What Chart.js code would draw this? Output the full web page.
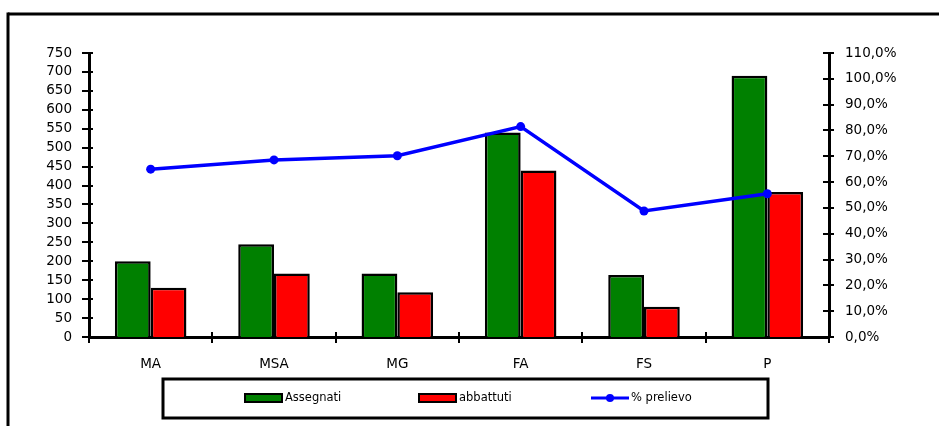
<!DOCTYPE html>
<html>
<head>
<meta charset="utf-8">
<script src="https://cdn.jsdelivr.net/npm/chart.js@4/dist/chart.umd.min.js"></script>
<style>
html,body{margin:0;padding:0;background:#fff}
#wrap{width:939px;height:426px;position:relative}
</style>
</head>
<body>
<div id="wrap"><canvas id="c" width="939" height="426"></canvas></div>
<script>
// data
const categories = ['MA', 'MSA', 'MG', 'FA', 'FS', 'P'];
const assegnati = [200, 245, 168, 540, 164, 690];
const abbattuti = [130, 168, 118, 440, 80, 383];
const prelievo = [65.0, 68.6, 70.2, 81.5, 48.8, 55.5];
const leftAxis = {min: 0, max: 750, step: 50};
const rightAxis = {min: 0, max: 110, step: 10};
const seriesNames = ['Assegnati', 'abbattuti', '% prelievo'];

const FONT = 'DejaVu Sans';

function seg(ctx, x1, y1, x2, y2){
    ctx.beginPath();
    ctx.moveTo(x1, y1);
    ctx.lineTo(x2, y2);
    ctx.stroke();
}

// excel style ticks that cross the axis line
const crossTicks = {
    id: 'crossTicks',
    afterDraw(chart){
        const ctx = chart.ctx, s = chart.scales;
        ctx.save();
        ctx.strokeStyle = '#000';
        ctx.lineWidth = 2;
        for(let v = leftAxis.min; v <= leftAxis.max; v += leftAxis.step){
            let py = Math.round(s.y.getPixelForValue(v));
            seg(ctx, s.y.right - 7, py, s.y.right + 4, py);
        }
        for(let v = rightAxis.min; v <= rightAxis.max; v += rightAxis.step){
            let py = Math.round(s.y1.getPixelForValue(v));
            seg(ctx, s.y1.left - 6, py, s.y1.left + 5, py);
        }
        for(let i = 0; i <= categories.length; i++){
            let px = Math.round(s.x.getPixelForValue(i - 0.5));
            seg(ctx, px, s.x.top - 5, px, s.x.top + 6);
        }
        ctx.restore();
    }
};

// outer frame + boxed legend
const frameLegend = {
    id: 'frameLegend',
    afterDraw(chart){
        const ctx = chart.ctx;
        const ds = chart.data.datasets;
        ctx.save();
        ctx.strokeStyle = '#000';
        ctx.lineWidth = 3;
        seg(ctx, 8, 14, 939, 14);
        seg(ctx, 8, 12.5, 8, 426);
        ctx.strokeRect(163, 379, 605, 39);

        const cy = 398;
        const xs = [245, 419, 591];
        ctx.font = '11.5px "' + FONT + '"';
        ctx.textBaseline = 'middle';
        ctx.fillStyle = '#000';
        for(let i = 0; i < 3; i++){
            let x = xs[i];
            if(ds[i].type === 'line'){
                ctx.strokeStyle = ds[i].borderColor;
                ctx.lineWidth = 3;
                seg(ctx, x, cy, x + 38, cy);
                ctx.fillStyle = ds[i].borderColor;
                ctx.beginPath();
                ctx.arc(x + 19, cy, 4, 0, Math.PI * 2);
                ctx.fill();
            }else{
                ctx.fillStyle = ds[i].backgroundColor;
                ctx.fillRect(x, cy - 4, 37, 8);
                ctx.strokeStyle = '#000';
                ctx.lineWidth = 2;
                ctx.strokeRect(x, cy - 4, 37, 8);
            }
            ctx.fillStyle = '#000';
            ctx.fillText(ds[i].label, x + 40, cy);
        }
        ctx.restore();
    }
};

const tickFont = {family: FONT, size: 13.5};

new Chart(document.getElementById('c'), {
    data: {
        labels: categories,
        datasets: [
            {type: 'bar', label: seriesNames[0], data: assegnati, backgroundColor: '#008000',
             borderColor: '#000', borderWidth: 2.5, yAxisID: 'y', order: 2,
             categoryPercentage: 0.58, barPercentage: 1.0},
            {type: 'bar', label: seriesNames[1], data: abbattuti, backgroundColor: '#ff0000',
             borderColor: '#000', borderWidth: 2.5, yAxisID: 'y', order: 2,
             categoryPercentage: 0.58, barPercentage: 1.0},
            {type: 'line', label: seriesNames[2], data: prelievo, borderColor: '#0000ff',
             backgroundColor: '#0000ff', borderWidth: 3.5, pointRadius: 4.5, pointBorderWidth: 0,
             pointBackgroundColor: '#0000ff', tension: 0, yAxisID: 'y1', order: 0}
        ]
    },
    options: {
        responsive: false,
        animation: false,
        devicePixelRatio: 1,
        layout: {padding: {top: 53, left: 0, right: 0, bottom: 0}},
        plugins: {legend: {display: false}, tooltip: {enabled: false}},
        scales: {
            x: {
                grid: {display: false, drawTicks: false},
                border: {color: '#000', width: 3},
                ticks: {font: tickFont, color: '#000', padding: 19, maxRotation: 0},
                afterFit(scale){ scale.height = 89; }
            },
            y: {
                position: 'left',
                min: leftAxis.min, max: leftAxis.max,
                grid: {display: false, drawTicks: false},
                border: {color: '#000', width: 3},
                ticks: {stepSize: leftAxis.step, autoSkip: false, font: tickFont, color: '#000', padding: 17},
                afterFit(scale){ scale.width = 89; }
            },
            y1: {
                position: 'right',
                min: rightAxis.min, max: rightAxis.max,
                grid: {display: false, drawTicks: false},
                border: {color: '#000', width: 3},
                ticks: {stepSize: rightAxis.step, autoSkip: false, font: tickFont, color: '#000', padding: 16,
                        callback: v => v.toFixed(1).replace('.', ',') + '%'},
                afterFit(scale){ scale.width = 110; }
            }
        }
    },
    plugins: [crossTicks, frameLegend]
});
</script>
</body>
</html>
